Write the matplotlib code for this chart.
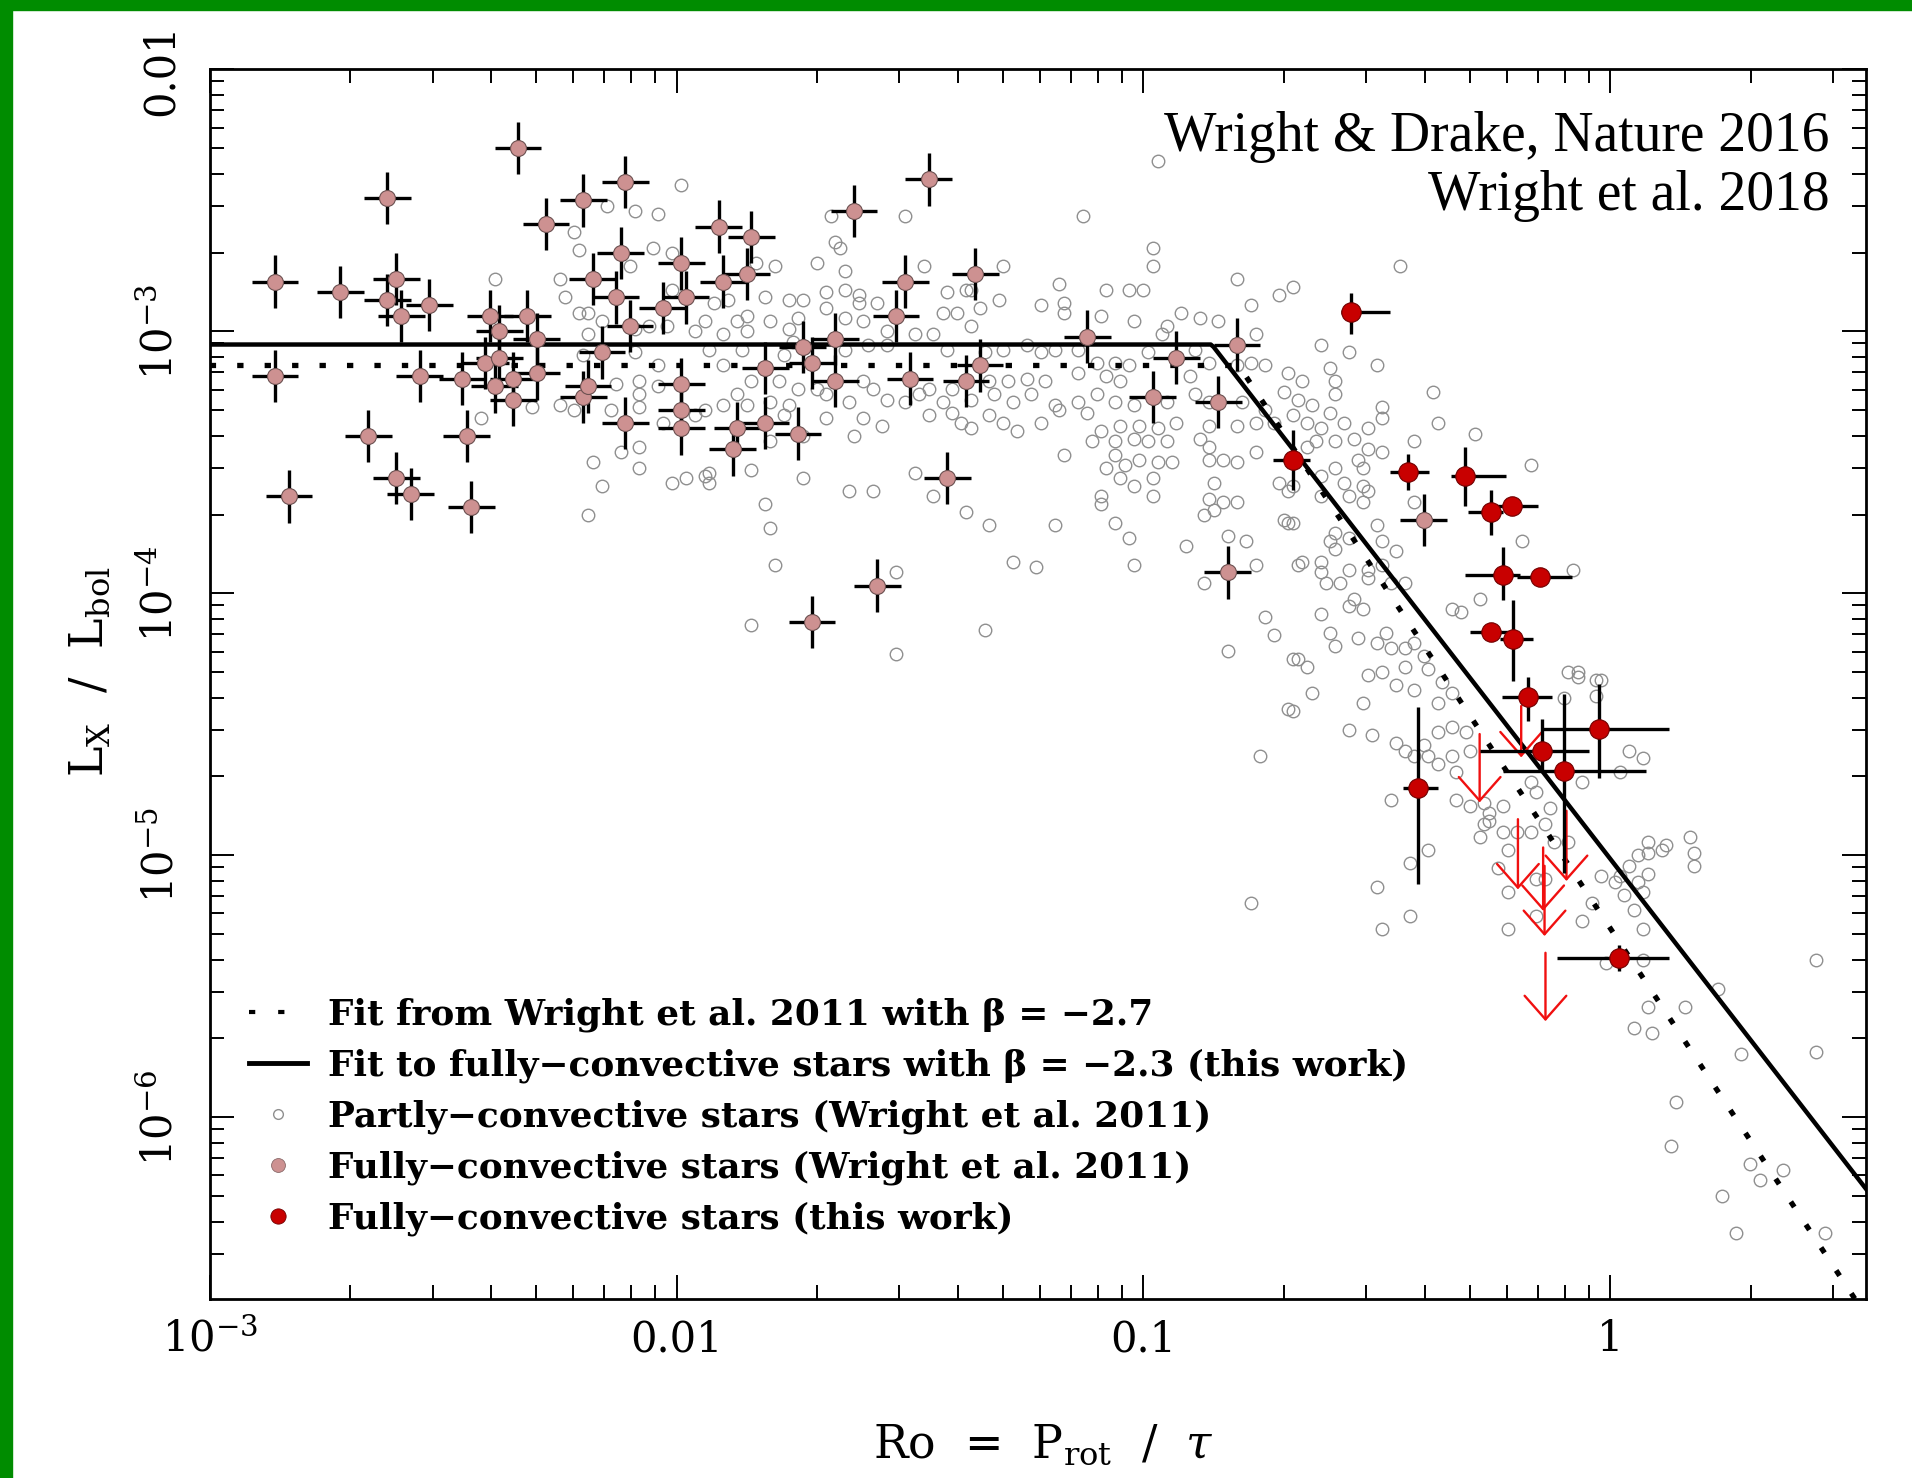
import numpy as np
import matplotlib
matplotlib.use('Agg')
import matplotlib.pyplot as plt
from matplotlib.lines import Line2D
from matplotlib.patches import Rectangle
from matplotlib.ticker import LogLocator, NullFormatter

plt.rcParams['font.family'] = 'DejaVu Serif'
plt.rcParams['mathtext.fontset'] = 'dejavuserif'

# fits: (log10 saturated Lx/Lbol, saturation Rossby number, power-law slope)
fit_2011 = (-3.13, 0.16, -2.7)
fit_2018 = (-3.05, 0.14, -2.3)

# partly-convective stars (Wright et al. 2011), (log10 Ro, log10 Lx/Lbol)
partly = [
    (-0.97, -2.35), (-1.51, -2.56), (-1.13, -2.56), (-1.67, -2.56), (-1.66, -2.66), (-1.65, -2.68),
    (-0.98, -2.68), (-0.98, -2.75), (-0.80, -2.80), (-1.70, -2.74), (-1.64, -2.77), (-1.47, -2.75),
    (-1.30, -2.75), (-1.79, -2.75), (-1.83, -2.74), (-1.81, -2.87), (-1.76, -2.88), (-1.73, -2.88),
    (-1.68, -2.85), (-1.64, -2.84), (-1.61, -2.86), (-1.61, -2.89), (-1.57, -2.89), (-1.68, -2.91),
    (-1.64, -2.95), (-1.60, -2.96), (-1.55, -3.00), (-1.49, -3.01), (-1.42, -2.85), (-1.38, -2.84),
    (-1.37, -2.84), (-1.40, -2.93), (-1.35, -2.91), (-1.31, -2.88), (-1.43, -2.93), (-1.37, -2.98),
    (-1.22, -2.90), (-1.18, -2.82), (-1.17, -2.89), (-1.17, -2.93), (-1.08, -2.84), (-1.03, -2.84),
    (-1.00, -2.84), (-1.09, -2.94), (-1.02, -2.96), (-0.95, -2.98), (-0.92, -2.93), (-0.88, -2.95),
    (-0.84, -2.96), (-0.77, -2.90), (-0.76, -3.01), (-1.89, -2.88), (-1.92, -2.89), (-1.94, -2.96),
    (-1.87, -2.96), (-1.85, -2.94), (-1.90, -3.01), (-1.85, -3.00), (-1.93, -3.07), (-1.80, -2.96),
    (-1.76, -2.99), (-1.74, -2.95),
    (-1.90, -3.13), (-1.86, -3.07), (-1.77, -3.09), (-1.75, -3.04), (-1.64, -3.07), (-1.59, -3.05),
    (-1.55, -3.05), (-1.45, -3.01), (-1.42, -3.07), (-1.34, -3.08), (-1.30, -3.07), (-1.25, -3.05),
    (-1.22, -3.08), (-1.19, -3.07), (-1.14, -3.07), (-1.10, -3.12), (-1.06, -3.12), (-1.03, -3.13),
    (-0.99, -3.08), (-0.96, -3.01), (-0.89, -3.07), (-0.86, -3.12), (-0.80, -3.13), (-0.77, -3.12),
    (-0.90, -3.17), (-1.05, -3.19), (-1.08, -3.17), (-1.14, -3.16), (-1.21, -3.19), (-1.25, -3.18),
    (-1.29, -3.19), (-1.33, -3.19), (-1.41, -3.22), (-1.46, -3.22), (-1.58, -3.22), (-1.60, -3.19),
    (-1.70, -3.22), (-1.74, -3.22), (-1.78, -3.19), (-1.84, -3.19), (-1.87, -3.24), (-1.90, -3.28),
    (-1.94, -3.30),
    (-1.85, -3.28), (-1.80, -3.27), (-1.76, -3.28), (-1.68, -3.24), (-1.63, -3.27), (-1.55, -3.26),
    (-1.51, -3.27), (-1.48, -3.24), (-1.43, -3.27), (-1.37, -3.26), (-1.32, -3.24), (-1.28, -3.27),
    (-1.24, -3.24), (-1.19, -3.28), (-1.14, -3.27), (-1.10, -3.24), (-1.06, -3.27), (-1.02, -3.28),
    (-0.95, -3.27), (-0.89, -3.24), (-0.86, -3.27), (-0.79, -3.27), (-0.76, -3.35), (-0.80, -3.36),
    (-0.86, -3.36), (-0.93, -3.35), (-0.97, -3.37), (-1.01, -3.36), (-1.05, -3.36), (-1.09, -3.38),
    (-1.11, -3.42), (-1.06, -3.42), (-1.02, -3.41), (-0.99, -3.42), (-0.95, -3.42), (-1.06, -3.47),
    (-1.01, -3.49), (-0.97, -3.50), (-0.94, -3.50), (-1.08, -3.52), (-1.04, -3.51), (-0.88, -3.41),
    (-0.86, -3.44), (-0.86, -3.49), (-0.83, -3.49), (-0.80, -3.50), (-0.76, -3.46), (-1.68, -3.33),
    (-1.60, -3.33), (-1.56, -3.36), (-1.62, -3.40), (-1.46, -3.32), (-1.41, -3.31), (-1.39, -3.35),
    (-1.37, -3.37), (-1.33, -3.32), (-1.30, -3.35), (-1.27, -3.38), (-1.22, -3.35), (-1.18, -3.30),
    (-1.12, -3.31), (-1.77, -3.32), (-1.80, -3.42), (-1.73, -3.40), (-1.93, -3.54), (-1.84, -3.53),
    (-1.73, -3.56), (-1.17, -3.47), (-1.05, -3.56), (-0.98, -3.56), (-1.02, -3.59), (-0.98, -3.63),
    (-0.85, -3.58), (-0.86, -3.64), (-0.83, -3.65), (-0.87, -3.70), (-0.85, -3.68), (-0.80, -3.65),
    (-1.49, -3.54), (-1.58, -3.61), (-1.63, -3.61), (-1.45, -3.63), (-1.38, -3.69), (-1.33, -3.74),
    (-1.19, -3.74), (-1.09, -3.63), (-1.09, -3.66), (-1.06, -3.73), (-1.03, -3.79), (-0.91, -3.82),
    (-0.82, -3.78), (-0.78, -3.80), (-1.80, -3.75), (-1.79, -3.89), (-1.53, -3.92), (-1.28, -3.88),
    (-1.23, -3.90), (-1.02, -3.89), (-0.87, -3.96), (-1.81, -3.66),
    (-1.84, -4.12), (-1.34, -4.14), (-1.53, -4.23), (-0.74, -4.09), (-0.72, -4.16), (-0.82, -4.22),
    (-0.68, -4.25), (-0.68, -4.45), (-0.75, -4.62), (-0.76, -3.89), (-0.67, -3.89), (-0.69, -3.73),
    (-0.68, -3.59),
    (-1.99, -2.44), (-2.15, -2.52), (-2.09, -2.54), (-2.04, -2.55), (-2.22, -2.62), (-2.21, -2.69),
    (-2.39, -2.80), (-2.25, -2.80), (-2.24, -2.87), (-2.21, -2.93), (-2.19, -2.93), (-2.05, -2.68),
    (-2.01, -2.70), (-2.10, -2.75), (-2.16, -2.96), (-2.09, -2.99), (-2.06, -2.98), (-2.01, -2.84),
    (-2.02, -2.98), (-1.96, -3.00), (-2.19, -3.01), (-2.20, -3.09), (-2.09, -3.08), (-2.04, -3.13),
    (-2.13, -3.20), (-2.08, -3.19), (-2.04, -3.21), (-2.08, -3.24), (-2.14, -3.30), (-2.08, -3.29),
    (-2.03, -3.35), (-1.96, -3.32), (-2.31, -3.29), (-2.25, -3.28), (-2.22, -3.30), (-2.42, -3.33),
    (-2.08, -3.44), (-2.12, -3.46), (-2.18, -3.50), (-2.08, -3.52), (-2.16, -3.59), (-2.01, -3.58),
    (-1.98, -3.56), (-1.94, -3.55), (-2.19, -3.70), (-1.93, -3.58),
    (-0.45, -2.75), (-0.68, -2.83), (-0.71, -2.86), (-0.62, -3.05), (-0.56, -3.08), (-0.60, -3.14),
    (-0.50, -3.13), (-0.74, -3.13), (-0.69, -3.16), (-0.66, -3.19), (-0.70, -3.23), (-0.67, -3.26),
    (-0.64, -3.28), (-0.59, -3.19), (-0.59, -3.24), (-0.60, -3.31), (-0.57, -3.35), (-0.62, -3.37),
    (-0.65, -3.35), (-0.68, -3.32), (-0.72, -3.35), (-0.74, -3.30), (-0.38, -3.23), (-0.37, -3.35),
    (-0.49, -3.29), (-0.49, -3.33), (-0.52, -3.37), (-0.55, -3.41), (-0.59, -3.42), (-0.63, -3.42),
    (-0.65, -3.44), (-0.52, -3.45), (-0.49, -3.46), (-0.29, -3.39), (-0.42, -3.42), (-0.54, -3.49),
    (-0.53, -3.52), (-0.59, -3.52), (-0.62, -3.55), (-0.57, -3.58), (-0.53, -3.59), (-0.17, -3.51),
    (-0.62, -3.63), (-0.56, -3.63), (-0.53, -3.65), (-0.52, -3.61), (-0.71, -3.58), (-0.69, -3.61),
    (-0.70, -3.72), (-0.68, -3.73), (-0.42, -3.65), (-0.50, -3.74), (-0.46, -3.84), (-0.49, -3.80),
    (-0.19, -3.80), (-0.59, -3.77), (-0.60, -3.80), (-0.56, -3.79), (-0.59, -3.83), (-0.62, -3.88),
    (-0.66, -3.88), (-0.62, -3.92), (-0.61, -3.96), (-0.58, -3.96), (-0.56, -3.91), (-0.52, -3.91),
    (-0.52, -3.94), (-0.49, -3.89), (-0.47, -3.96), (-0.44, -3.96), (-0.55, -4.02), (-0.56, -4.05),
    (-0.53, -4.06), (-0.62, -4.08), (-0.60, -4.15), (-0.59, -4.20), (-0.54, -4.17), (-0.50, -4.19),
    (-0.48, -4.15), (-0.47, -4.21), (-0.44, -4.21), (-0.42, -4.19), (-0.40, -4.24), (-0.39, -4.29),
    (-0.36, -4.34), (-0.34, -4.38), (-0.44, -4.28), (-0.49, -4.30), (-0.52, -4.31), (-0.46, -4.35),
    (-0.42, -4.37), (-0.37, -4.42), (-0.34, -4.06), (-0.32, -4.07), (-0.28, -4.02), (-0.08, -3.91),
    (-0.09, -4.30), (-0.07, -4.32), (-0.03, -4.33), (-0.67, -4.25), (-0.65, -4.28), (-0.64, -4.38),
    (-0.69, -4.44), (-0.53, -4.42),
    (-0.77, -5.18), (-0.56, -4.52), (-0.51, -4.54), (-0.47, -4.79), (-0.50, -5.12), (-0.43, -5.23),
    (-0.49, -5.28), (-0.43, -5.03), (-0.39, -4.98), (-0.46, -4.57), (-0.44, -4.60), (-0.42, -4.62),
    (-0.39, -4.62), (-0.40, -4.58), (-0.37, -4.65), (-0.34, -4.62), (-0.33, -4.68), (-0.37, -4.53),
    (-0.34, -4.51), (-0.31, -4.53), (-0.30, -4.60), (-0.33, -4.79), (-0.30, -4.81), (-0.27, -4.80),
    (-0.26, -4.84), (-0.23, -4.81), (-0.27, -4.88), (-0.28, -4.93), (-0.23, -4.91), (-0.20, -4.91),
    (-0.22, -4.98), (-0.17, -4.91), (-0.17, -4.72), (-0.16, -4.76), (-0.13, -4.82), (-0.14, -4.88),
    (-0.24, -5.05), (-0.22, -5.14), (-0.16, -5.09), (-0.22, -5.28), (-0.16, -5.23), (-0.06, -5.25),
    (-0.04, -5.18), (-0.02, -5.08), (0.01, -5.10), (0.02, -5.08), (0.06, -5.10), (0.04, -5.04),
    (0.06, -5.00), (0.08, -4.99), (0.11, -4.98), (0.08, -4.95), (0.12, -4.96), (0.17, -4.93),
    (0.18, -4.99), (0.18, -5.04), (0.07, -5.14), (0.05, -5.21), (0.07, -5.28), (-0.01, -5.41),
    (0.08, -5.58), (0.16, -5.58), (0.04, -4.60), (0.07, -4.63), (-0.06, -4.72), (0.02, -4.68),
    (-0.07, -4.30), (-0.02, -4.33), (-0.10, -4.40), (-0.03, -4.39),
    (-0.26, -4.87), (-0.12, -4.95), (-0.09, -4.95), (-0.14, -5.09), (0.03, -5.15), (0.08, -5.07),
    (0.07, -5.40),
    (0.44, -5.40), (0.44, -5.75), (0.23, -5.51), (0.28, -5.76), (0.05, -5.66), (0.09, -5.68),
    (0.14, -5.94), (0.13, -6.11), (0.30, -6.18), (0.32, -6.24), (0.37, -6.20), (0.24, -6.30),
    (0.27, -6.44), (0.46, -6.44),
]

# fully-convective stars (Wright et al. 2011)
fully_2011 = [
    (-2.34, -2.30), (-2.62, -2.49), (-2.11, -2.43), (-2.20, -2.50), (-2.28, -2.59), (-2.12, -2.70),
    (-1.91, -2.60), (-1.84, -2.64), (-1.99, -2.74), (-1.85, -2.78), (-1.90, -2.81), (-2.86, -2.81),
    (-2.72, -2.85), (-2.60, -2.80), (-2.62, -2.88), (-2.59, -2.94), (-2.53, -2.90), (-2.18, -2.80),
    (-2.13, -2.87), (-1.98, -2.87), (-2.03, -2.91), (-2.10, -2.98), (-2.40, -2.94), (-2.32, -2.94),
    (-2.38, -3.00), (-2.30, -3.03), (-2.16, -3.08), (-2.41, -3.12), (-2.38, -3.10), (-2.30, -3.16),
    (-1.81, -3.14), (-2.86, -3.17), (-2.55, -3.17), (-2.46, -3.18), (-2.35, -3.18), (-2.39, -3.21),
    (-2.35, -3.26), (-2.20, -3.25), (-2.19, -3.21), (-1.99, -3.20), (-1.99, -3.30), (-2.11, -3.35),
    (-1.99, -3.37), (-1.87, -3.37), (-1.81, -3.35), (-1.88, -3.45), (-2.66, -3.40), (-2.45, -3.40),
    (-2.60, -3.56), (-2.57, -3.62), (-2.83, -3.63), (-2.44, -3.67),
    (-1.46, -2.42), (-1.62, -2.54), (-1.51, -2.81), (-1.36, -2.78), (-1.53, -2.94), (-1.66, -3.03),
    (-1.73, -3.06), (-1.12, -3.02), (-0.80, -3.05), (-1.71, -3.12), (-1.66, -3.19), (-1.50, -3.18),
    (-1.38, -3.19), (-1.35, -3.13), (-0.93, -3.10), (-0.98, -3.25), (-0.84, -3.27), (-1.74, -3.39),
    (-1.42, -3.56), (-1.57, -3.97), (-0.82, -3.92), (-1.71, -4.11), (-0.40, -3.72),
]
fully_2011_dx = 0.05   # dex
fully_2011_dy = 0.10   # dex

# fully-convective stars (this work), errors in dex
red_log_ro = [-0.556, -0.680, -0.433, -0.312, -0.255, -0.210, -0.231, -0.151,
              -0.255, -0.208, -0.176, -0.024, -0.146, -0.100, -0.412, 0.019]
red_log_rx = [-2.925, -3.490, -3.537, -3.550, -3.690, -3.667, -3.929, -3.938,
              -4.148, -4.176, -4.397, -4.518, -4.601, -4.677, -4.741, -5.391]
red_dx_lo = [0.020, 0.043, 0.039, 0.029, 0.050, 0.049, 0.081, 0.050,
             0.046, 0.029, 0.057, 0.120, 0.134, 0.130, 0.032, 0.134]
red_dx_hi = [0.085, 0.036, 0.045, 0.088, 0.025, 0.055, 0.037, 0.068,
             0.046, 0.043, 0.050, 0.150, 0.101, 0.177, 0.043, 0.107]
red_dy_lo = [0.083, 0.117, 0.070, 0.115, 0.089, 0.020, 0.098, 0.030,
             0.020, 0.157, 0.089, 0.185, 0.080, 0.389, 0.370, 0.050]
red_dy_hi = [0.070, 0.112, 0.070, 0.108, 0.083, 0.020, 0.106, 0.030,
             0.020, 0.149, 0.076, 0.172, 0.120, 0.293, 0.306, 0.050]

# upper limits (this work)
ul_log_ro = [-0.280, -0.191, -0.198, -0.094, -0.144, -0.141, -0.139]
ul_log_top = [-4.537, -4.430, -4.862, -4.830, -4.970, -5.040, -5.372]
ul_log_tip = [-4.798, -4.626, -5.130, -5.098, -5.212, -5.308, -5.633]

x_ticks = [1e-3, 1e-2, 1e-1, 1.0]
x_ticklabels = [r'$10^{-3}$', '0.01', '0.1', '1']
y_ticks = [1e-6, 1e-5, 1e-4, 1e-3, 1e-2]
y_ticklabels = [r'$10^{-6}$', r'$10^{-5}$', r'$10^{-4}$', r'$10^{-3}$', '0.01']

legend_labels = [
    'Fit from Wright et al. 2011 with \u03b2 = \u22122.7',
    'Fit to fully\u2212convective stars with \u03b2 = \u22122.3 (this work)',
    'Partly\u2212convective stars (Wright et al. 2011)',
    'Fully\u2212convective stars (Wright et al. 2011)',
    'Fully\u2212convective stars (this work)',
]
credits = ['Wright & Drake, Nature 2016', 'Wright et al. 2018']

XMAX = 3.53
YMIN = 2.03e-7


def fit_curve(ro, p):
    lrsat, rosat, beta = p
    return np.where(ro < rosat, 10**lrsat, 10**lrsat * (ro / rosat)**beta)


def log_err(v, lo, hi):
    v = np.asarray(v)
    return [v - v * 10**(-np.asarray(lo)), v * 10**np.asarray(hi) - v]


fig = plt.figure(figsize=(19.12, 14.78), dpi=100)
fig.patches.append(Rectangle((0, 1 - 10 / 1478), 1, 10 / 1478, transform=fig.transFigure,
                             color='#008c00', zorder=0))
fig.patches.append(Rectangle((0, 0), 12 / 1912, 1, transform=fig.transFigure,
                             color='#008c00', zorder=0))

ax = fig.add_axes([0.1097, 0.1213, 0.8663, 0.8317])
ax.set_xscale('log')
ax.set_yscale('log')

pc = np.array(partly)
ax.plot(10**pc[:, 0], 10**pc[:, 1], 'o', ms=9, mfc='none', mec='#8f8f8f', mew=1.0, zorder=2)

ro = np.logspace(-3, np.log10(XMAX), 600)
ax.plot(ro, fit_curve(ro, fit_2011), color='k', lw=3.8, ls=(0, (1.2, 4.0)), zorder=3)
ax.plot(ro, fit_curve(ro, fit_2018), color='k', lw=3.2, zorder=3)

fc = np.array(fully_2011)
fx, fy = 10**fc[:, 0], 10**fc[:, 1]
ax.errorbar(fx, fy,
            xerr=log_err(fx, fully_2011_dx, fully_2011_dx),
            yerr=log_err(fy, fully_2011_dy, fully_2011_dy),
            fmt='o', ms=11.5, mfc='#cd9191', mec='#6b5050', mew=0.8,
            ecolor='black', elinewidth=2.4, capsize=0, zorder=4)

for r, top, tip in zip(ul_log_ro, ul_log_top, ul_log_tip):
    ax.annotate('', xy=(10**r, 10**tip), xytext=(10**r, 10**top),
                arrowprops=dict(arrowstyle='->,head_length=0.85,head_width=0.75',
                                color='#f01010', lw=1.7, shrinkA=0, shrinkB=0,
                                mutation_scale=20),
                zorder=5)

rx, ry = 10**np.array(red_log_ro), 10**np.array(red_log_rx)
ax.errorbar(rx, ry,
            xerr=log_err(rx, red_dx_lo, red_dx_hi),
            yerr=log_err(ry, red_dy_lo, red_dy_hi),
            fmt='o', ms=14, mfc='#c80000', mec='#700000', mew=0.8,
            ecolor='black', elinewidth=2.4, capsize=0, zorder=6)

ax.set_xticks(x_ticks)
ax.set_xticklabels(x_ticklabels)
ax.set_yticks(y_ticks)
ax.set_yticklabels(y_ticklabels)
for axis in (ax.xaxis, ax.yaxis):
    axis.set_minor_locator(LogLocator(base=10, subs=np.arange(2, 10), numticks=30))
    axis.set_minor_formatter(NullFormatter())
ax.set_xlim(1e-3, XMAX)
ax.set_ylim(YMIN, 1e-2)

ax.tick_params(which='both', direction='in', top=True, right=True, width=1.4, color='black')
ax.tick_params(which='major', length=17)
ax.tick_params(which='minor', length=10)
ax.tick_params(axis='x', labelsize=30, pad=14)
ax.tick_params(axis='y', labelsize=30, pad=20, labelrotation=90)
for lab in ax.get_yticklabels():
    lab.set_va('center')
for sp in ax.spines.values():
    sp.set_linewidth(2.0)

ax.text(0.503, -0.119, 'Ro  =  P$_{\\rm rot}$  /  $\\tau$', transform=ax.transAxes,
        ha='center', va='center', fontsize=33)
ax.text(-0.072, 0.51, 'L$_{\\rm X}$  /  L$_{\\rm bol}$', transform=ax.transAxes,
        ha='center', va='center', rotation=90, fontsize=33)

ax.text(0.978, 0.934, credits[0], transform=ax.transAxes, ha='right', va='baseline',
        family='Liberation Serif', fontsize=40)
ax.text(0.978, 0.886, credits[1], transform=ax.transAxes, ha='right', va='baseline',
        family='Liberation Serif', fontsize=40)

handles = [
    Line2D([], [], color='k', lw=3.0, ls=(0, (1.5, 5.5))),
    Line2D([], [], color='k', lw=3.5),
    Line2D([], [], ls='none', marker='o', ms=7, mfc='none', mec='#8f8f8f', mew=1.0),
    Line2D([], [], ls='none', marker='o', ms=10, mfc='#cd9191', mec='#8a6a6a', mew=0.6),
    Line2D([], [], ls='none', marker='o', ms=11, mfc='#c80000', mec='#700000', mew=0.6),
]
ax.legend(handles, legend_labels, loc='lower left', bbox_to_anchor=(0.024, 0.051),
          frameon=False, borderpad=0, borderaxespad=0, handlelength=1.6,
          handletextpad=0.58, labelspacing=0.46,
          prop={'family': 'DejaVu Serif', 'weight': 'bold', 'size': 25.8})

fig.savefig('out.png', dpi=100)
